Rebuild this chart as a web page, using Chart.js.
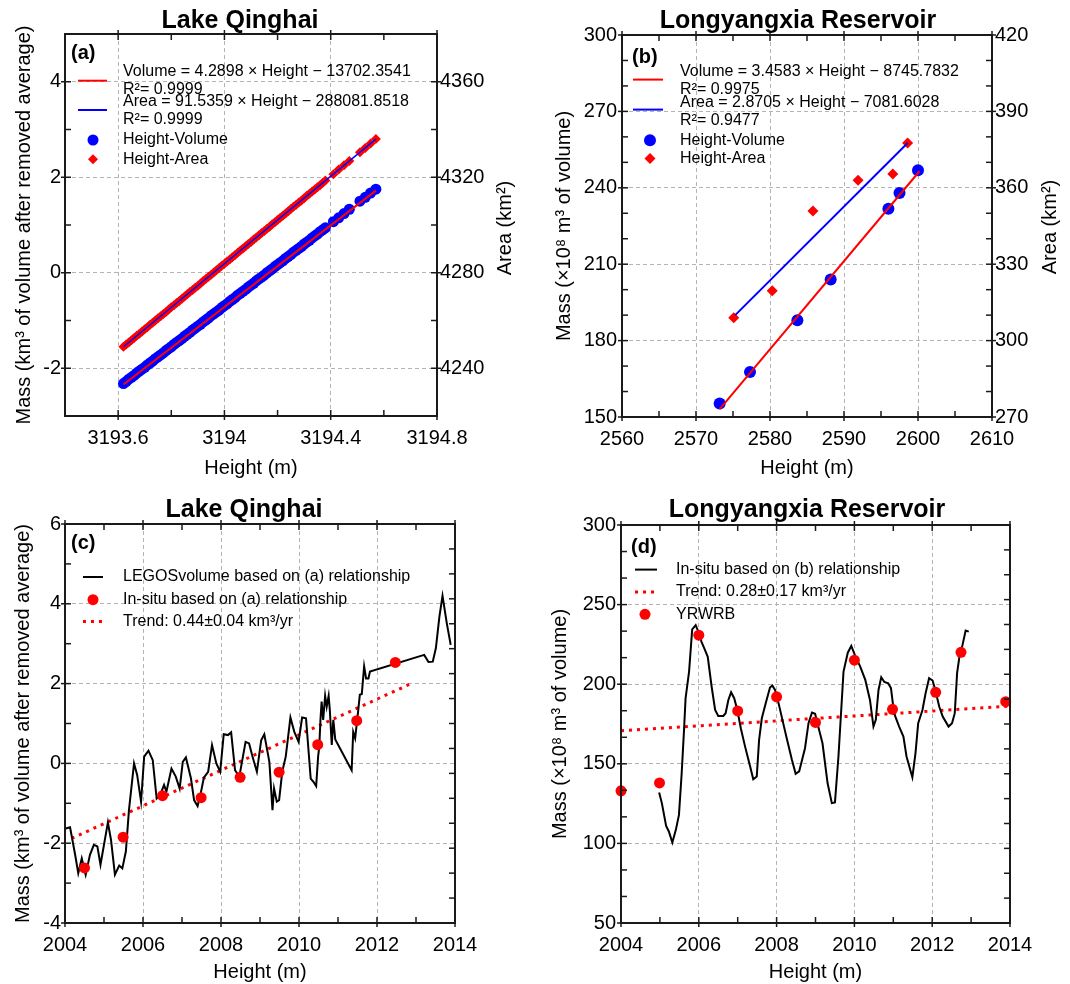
<!DOCTYPE html>
<html><head><meta charset="utf-8">
<script src="https://cdn.jsdelivr.net/npm/chart.js@4.4.0/dist/chart.umd.min.js"></script>
<style>
html,body{margin:0;padding:0;background:#fff;}
body{width:1070px;height:984px;position:relative;overflow:hidden;}
canvas{position:absolute;}
</style></head><body>
<canvas id="ca" width="535" height="490" style="left:0;top:0"></canvas>
<canvas id="cb" width="535" height="490" style="left:535px;top:0"></canvas>
<canvas id="cc" width="535" height="494" style="left:0;top:490px"></canvas>
<canvas id="cd" width="535" height="494" style="left:535px;top:490px"></canvas>
<script>
// ---------- Panel (a) Lake Qinghai: height vs volume / area ----------
const heightA = [3193.62,3193.63,3193.64,3193.65,3193.66,3193.67,3193.68,3193.69,3193.70,3193.71,3193.72,3193.73,3193.74,3193.75,3193.76,3193.77,3193.78,3193.79,3193.80,3193.81,3193.82,3193.83,3193.84,3193.85,3193.86,3193.87,3193.88,3193.89,3193.90,3193.91,3193.92,3193.93,3193.94,3193.95,3193.96,3193.97,3193.98,3193.99,3194.00,3194.01,3194.02,3194.03,3194.04,3194.05,3194.06,3194.07,3194.08,3194.09,3194.10,3194.11,3194.12,3194.13,3194.14,3194.15,3194.16,3194.17,3194.18,3194.19,3194.20,3194.21,3194.22,3194.23,3194.24,3194.25,3194.26,3194.27,3194.28,3194.29,3194.30,3194.31,3194.32,3194.33,3194.34,3194.35,3194.36,3194.37,3194.38,3194.41,3194.43,3194.45,3194.47,3194.51,3194.53,3194.55,3194.57];
const volumeA = [-2.32,-2.28,-2.23,-2.19,-2.15,-2.10,-2.06,-2.02,-1.98,-1.93,-1.89,-1.85,-1.80,-1.76,-1.72,-1.68,-1.63,-1.59,-1.55,-1.50,-1.46,-1.42,-1.38,-1.33,-1.29,-1.25,-1.20,-1.16,-1.12,-1.08,-1.03,-0.99,-0.95,-0.90,-0.86,-0.82,-0.78,-0.73,-0.69,-0.65,-0.60,-0.56,-0.52,-0.47,-0.43,-0.39,-0.35,-0.30,-0.26,-0.22,-0.17,-0.13,-0.09,-0.05,0.00,0.04,0.08,0.13,0.17,0.21,0.25,0.30,0.34,0.38,0.43,0.47,0.51,0.55,0.60,0.64,0.68,0.73,0.77,0.81,0.86,0.90,0.94,1.07,1.15,1.24,1.33,1.50,1.58,1.67,1.75];
const areaA = [4249.0,4249.9,4250.8,4251.7,4252.7,4253.6,4254.5,4255.4,4256.3,4257.2,4258.2,4259.1,4260.0,4260.9,4261.8,4262.7,4263.6,4264.6,4265.5,4266.4,4267.3,4268.2,4269.1,4270.1,4271.0,4271.9,4272.8,4273.7,4274.6,4275.5,4276.5,4277.4,4278.3,4279.2,4280.1,4281.0,4282.0,4282.9,4283.8,4284.7,4285.6,4286.5,4287.4,4288.4,4289.3,4290.2,4291.1,4292.0,4292.9,4293.9,4294.8,4295.7,4296.6,4297.5,4298.4,4299.3,4300.3,4301.2,4302.1,4303.0,4303.9,4304.8,4305.8,4306.7,4307.6,4308.5,4309.4,4310.3,4311.2,4312.2,4313.1,4314.0,4314.9,4315.8,4316.7,4317.7,4318.6,4321.3,4323.2,4325.0,4326.8,4330.5,4332.3,4334.1,4336.0];
const fitHeightA = [3193.62, 3194.57];
const fitVolumeA = [-2.34, 1.72];
const fitAreaA = [4249.0, 4336.0];
const legendA = ['Volume = 4.2898 × Height − 13702.3541', 'R²= 0.9999', 'Area = 91.5359 × Height − 288081.8518', 'R²= 0.9999', 'Height-Volume', 'Height-Area'];

// ---------- Panel (b) Longyangxia: height vs volume / area ----------
const volHeightB = [2573.2, 2577.3, 2583.7, 2588.2, 2596.0, 2597.5, 2600.0];
const volumeB = [155.3, 167.7, 188.0, 204.0, 231.8, 238.0, 246.9];
const areaHeightB = [2575.1, 2580.3, 2585.8, 2591.9, 2596.6, 2598.6];
const areaB = [309.0, 319.6, 350.9, 363.0, 365.4, 377.6];
const fitVolHeightB = [2573.2, 2600.2];
const fitVolumeB = [153.1, 246.5];
const fitAreaHeightB = [2575.3, 2598.6];
const fitAreaB = [310.0, 377.6];
const legendB = ['Volume = 3.4583 × Height − 8745.7832', 'R²= 0.9975', 'Area = 2.8705 × Height − 7081.6028', 'R²= 0.9477', 'Height-Volume', 'Height-Area'];

// ---------- Panel (c) Lake Qinghai time series ----------
const legosYearsC = [2004.02,2004.13,2004.26,2004.34,2004.43,2004.49,2004.53,2004.64,2004.74,2004.83,2004.91,2005.10,2005.18,2005.28,2005.39,2005.47,2005.56,2005.64,2005.77,2005.85,2005.95,2006.03,2006.14,2006.25,2006.35,2006.44,2006.54,2006.60,2006.73,2006.84,2006.94,2007.02,2007.10,2007.23,2007.31,2007.40,2007.48,2007.56,2007.67,2007.77,2007.88,2007.98,2008.07,2008.18,2008.26,2008.36,2008.47,2008.63,2008.72,2008.82,2008.92,2009.03,2009.11,2009.24,2009.32,2009.36,2009.43,2009.49,2009.57,2009.66,2009.78,2009.88,2009.99,2010.08,2010.18,2010.30,2010.37,2010.44,2010.49,2010.52,2010.55,2010.58,2010.62,2010.67,2010.71,2010.76,2010.79,2010.84,2010.88,2010.93,2011.35,2011.39,2011.44,2011.52,2011.56,2011.61,2011.67,2011.72,2011.78,2011.82,2013.21,2013.32,2013.43,2013.51,2013.60,2013.68,2013.79,2013.89];
const legosC = [-1.63,-1.60,-2.29,-2.75,-2.38,-2.63,-2.79,-2.29,-2.04,-2.08,-2.54,-1.48,-1.92,-2.79,-2.56,-2.63,-2.21,-1.17,0.00,-0.29,-0.96,0.17,0.32,0.08,-0.88,-0.79,-0.54,-0.71,-0.13,-0.33,-0.63,0.04,0.15,-0.38,-0.92,-1.07,-0.75,-0.36,-0.21,0.46,0.00,-0.21,0.73,0.71,0.78,-0.17,-0.33,0.54,0.50,0.13,-0.21,0.58,0.73,0.04,-1.17,-0.63,-0.96,-0.92,-0.21,0.17,1.15,0.79,0.54,1.15,1.13,-0.38,-0.46,-0.57,0.17,0.42,1.09,1.55,1.09,1.69,1.42,1.69,1.34,0.46,1.09,0.60,-0.17,0.79,0.63,1.34,1.72,1.74,2.43,2.13,2.13,2.30,2.72,2.54,2.55,2.89,3.68,4.20,3.51,2.97];
const insituYearsC = [2004.50, 2005.49, 2006.50, 2007.49, 2008.49, 2009.49, 2010.48, 2011.48, 2012.47];
const insituC = [-2.62, -1.85, -0.81, -0.86, -0.35, -0.22, 0.47, 1.07, 2.53];
const trendYearsC = [2004.17, 2012.83];
const trendC = [-1.88, 1.98];
const legendC = ['LEGOSvolume based on (a) relationship', 'In-situ based on (a) relationship', 'Trend: 0.44±0.04 km³/yr'];

// ---------- Panel (d) Longyangxia time series ----------
const insituYearsD = [2004.98,2005.05,2005.16,2005.23,2005.32,2005.41,2005.49,2005.56,2005.62,2005.66,2005.75,2005.83,2005.92,2005.99,2006.07,2006.16,2006.23,2006.33,2006.42,2006.50,2006.63,2006.69,2006.76,2006.83,2006.91,2006.99,2007.08,2007.19,2007.32,2007.40,2007.49,2007.55,2007.62,2007.72,2007.83,2007.89,2007.96,2008.05,2008.15,2008.26,2008.39,2008.49,2008.58,2008.73,2008.82,2008.91,2008.99,2009.07,2009.18,2009.31,2009.42,2009.50,2009.59,2009.72,2009.83,2009.92,2010.02,2010.15,2010.28,2010.40,2010.49,2010.55,2010.62,2010.69,2010.77,2010.87,2010.94,2011.02,2011.15,2011.26,2011.34,2011.49,2011.57,2011.64,2011.75,2011.83,2011.92,2012.01,2012.08,2012.18,2012.27,2012.42,2012.51,2012.58,2012.64,2012.70,2012.77,2012.86,2012.94];
const insituD = [131.9,125.3,111.0,107.5,100.6,108.5,117.9,144.1,171.2,191.1,207.9,234.4,237.1,232.9,226.6,221.4,217.2,198.4,183.8,180.1,180.1,181.8,190.1,194.9,191.2,183.8,172.3,160.8,148.3,140.3,142.0,165.0,178.6,188.1,197.9,199.2,196.4,188.1,177.6,166.1,152.9,143.7,145.2,159.8,175.5,182.2,181.4,173.4,162.9,137.9,125.3,125.7,154.6,207.9,219.8,224.0,217.8,211.1,202.7,190.1,173.4,177.6,196.4,204.4,201.4,200.6,197.5,181.8,173.4,167.1,154.6,141.6,156.6,175.5,183.8,194.3,203.8,202.3,196.4,186.0,179.7,173.4,175.5,181.8,206.9,217.3,223.6,233.7,233.0];
const yrwrbYearsD = [2004.0, 2004.99, 2006.0, 2007.0, 2008.0, 2009.0, 2010.0, 2010.98, 2012.09, 2012.74, 2013.89];
const yrwrbD = [133, 138, 230.8, 183.2, 192.1, 176, 215.1, 184.2, 194.9, 220, 189];
const trendYearsD = [2004.0, 2014.0];
const trendD = [170.8, 186.2];
const legendD = ['In-situ based on (b) relationship', 'Trend: 0.28±0.17 km³/yr', 'YRWRB'];

// ---------- helpers ----------
const FONT = "'Liberation Sans', Arial, Helvetica, sans-serif";
Chart.defaults.font.family = FONT;
Chart.defaults.color = '#000';
Chart.defaults.animation = false;

const pts = (xs, ys) => xs.map((x, i) => ({x: x, y: ys[i]}));
const near = (v, base, step) => { const r = (v - base) / step; return Math.abs(r - Math.round(r)) < 1e-6; };
const RED = '#ff0000', BLUE = '#0000ff';

function axis(p) {
  const horiz = p.position === 'bottom';
  return {
    type: 'linear', position: p.position, min: p.min, max: p.max,
    afterFit: s => { if (horiz) s.height = p.size; else s.width = p.size; },
    grid: { display: p.grid !== false, drawTicks: false, lineWidth: 1,
            color: c => (c.tick && p.major(c.tick.value)) ? '#b4b4b4' : 'rgba(0,0,0,0)' },
    border: { display: false, dash: [4, 3] },
    ticks: { stepSize: p.step, autoSkip: false, maxRotation: 0, minRotation: 0,
             padding: p.pad || 0, display: p.labels !== false,
             font: { size: 20 }, color: '#000',
             callback: v => p.major(v) ? p.fmt(v) : '' },
    title: p.title ? { display: true, text: p.title, font: { size: 20 }, color: '#000', padding: p.titlePad } : { display: false }
  };
}

const panelCfg = {};
const deco = {
  id: 'deco',
  afterDraw(chart) {
    const cfg = panelCfg[chart.canvas.id]; if (!cfg) return;
    const ctx = chart.ctx, ca = chart.chartArea;
    ctx.save();
    ctx.strokeStyle = '#1a1a1a'; ctx.lineWidth = 1.5;
    const seg = (x0, y0, x1, y1) => { ctx.beginPath(); ctx.moveTo(x0, y0); ctx.lineTo(x1, y1); ctx.stroke(); };
    const xs = chart.scales.x;
    xs.ticks.forEach(t => {
      const p = xs.getPixelForValue(t.value), mj = cfg.majX(t.value);
      seg(p, ca.bottom + (mj ? 4 : 0), p, ca.bottom - 6);
      seg(p, ca.top - (mj ? 4 : 0), p, ca.top + 6);
    });
    const ys = chart.scales.y;
    ys.ticks.forEach(t => {
      const p = ys.getPixelForValue(t.value), mj = cfg.majY(t.value);
      seg(ca.left - (mj ? 4 : 0), p, ca.left + 6, p);
    });
    const y2 = chart.scales.y2;
    y2.ticks.forEach(t => {
      const p = y2.getPixelForValue(t.value), mj = cfg.majY2(t.value);
      seg(ca.right + (mj ? 4 : 0), p, ca.right - 6, p);
    });
    ctx.lineWidth = 2; ctx.strokeStyle = '#1a1a1a';
    ctx.strokeRect(ca.left, ca.top, ca.right - ca.left, ca.bottom - ca.top);
    ctx.fillStyle = '#000';
    ctx.font = 'bold 25px ' + FONT; ctx.textAlign = 'center'; ctx.textBaseline = 'alphabetic';
    ctx.fillText(cfg.title, cfg.titleX, cfg.titleY);
    ctx.font = 'bold 20px ' + FONT; ctx.textAlign = 'left'; ctx.textBaseline = 'middle';
    ctx.fillText(cfg.tag, ca.left + cfg.tagX, ca.top + cfg.tagY);
    if (cfg.rTitle) {
      ctx.save(); ctx.translate(cfg.rTitleX, cfg.rTitleY); ctx.rotate(-Math.PI / 2);
      ctx.font = '20px ' + FONT; ctx.textAlign = 'center'; ctx.textBaseline = 'middle';
      ctx.fillText(cfg.rTitle, 0, 0); ctx.restore();
    }
    ctx.font = '16px ' + FONT; ctx.textAlign = 'left'; ctx.textBaseline = 'middle';
    cfg.legend.forEach(e => {
      const L = ca.left, T = ca.top;
      if (e.kind === 'line') {
        ctx.save(); ctx.strokeStyle = e.color; ctx.lineWidth = e.width; ctx.setLineDash(e.dash || []);
        seg(L + e.x0, T + e.y, L + e.x1, T + e.y); ctx.restore();
      } else if (e.kind === 'circle') {
        ctx.beginPath(); ctx.fillStyle = e.color; ctx.arc(L + e.x, T + e.y, e.r, 0, Math.PI * 2); ctx.fill();
      } else if (e.kind === 'diamond') {
        ctx.beginPath(); ctx.fillStyle = e.color;
        ctx.moveTo(L + e.x, T + e.y - e.r); ctx.lineTo(L + e.x + e.r, T + e.y);
        ctx.lineTo(L + e.x, T + e.y + e.r); ctx.lineTo(L + e.x - e.r, T + e.y); ctx.closePath(); ctx.fill();
      }
      ctx.fillStyle = '#000';
      e.text.forEach(tl => ctx.fillText(tl[0], L + e.tx, T + tl[1]));
    });
    ctx.restore();
  }
};

function baseOptions(scales, padTop) {
  return {
    responsive: false, animation: false, events: [],
    layout: { padding: { top: padTop, left: 0, right: 0, bottom: 0 } },
    plugins: { legend: { display: false }, title: { display: false }, tooltip: { enabled: false } },
    scales: scales
  };
}
const lineDs = (label, xs, ys, color, width, axisId, dash) => ({
  label: label, data: pts(xs, ys), showLine: true, borderColor: color, borderWidth: width,
  borderDash: dash || [], pointRadius: 0, fill: false, tension: 0, yAxisID: axisId, order: 0
});
const pointDs = (label, xs, ys, color, style, r, axisId, order) => ({
  label: label, data: pts(xs, ys), showLine: false, pointStyle: style, pointRadius: r,
  backgroundColor: color, borderColor: color, borderWidth: 0, yAxisID: axisId, order: order, clip: false
});

// ---------- (a) ----------
const majXA = v => v > 3193.5 && near(v, 3193.6, 0.4);
const majYA = v => near(v, 0, 2);
const majY2A = v => near(v, 4240, 40);
panelCfg.ca = {
  majX: majXA, majY: majYA, majY2: majY2A,
  title: 'Lake Qinghai', titleX: 240, titleY: 28, tag: '(a)', tagX: 6, tagY: 19,
  rTitle: 'Area (km²)', rTitleX: 505, rTitleY: 228,
  legend: [
    { kind: 'line', color: RED, width: 2, x0: 13, x1: 42, y: 46.7, tx: 58, text: [[legendA[0], 37.7], [legendA[1], 56]] },
    { kind: 'line', color: BLUE, width: 2, x0: 13, x1: 42, y: 76, tx: 58, text: [[legendA[2], 67.7], [legendA[3], 86]] },
    { kind: 'circle', color: BLUE, r: 5.5, x: 28, y: 106, tx: 58, text: [[legendA[4], 106]] },
    { kind: 'diamond', color: RED, r: 5, x: 28, y: 125.3, tx: 58, text: [[legendA[5], 125.3]] }
  ]
};
new Chart(document.getElementById('ca'), {
  type: 'scatter',
  data: { datasets: [
    lineDs('Volume fit', fitHeightA, fitVolumeA, RED, 2, 'y'),
    lineDs('Area fit', fitHeightA, fitAreaA, BLUE, 1.5, 'y2'),
    pointDs('Height-Volume', heightA, volumeA, BLUE, 'circle', 5.5, 'y', 2),
    pointDs('Height-Area', heightA, areaA, RED, 'rectRot', 5, 'y2', 1)
  ]},
  options: baseOptions({
    x: axis({ position: 'bottom', min: 3193.4, max: 3194.8, step: 0.2, major: majXA, fmt: v => String(+v.toFixed(1)), size: 74, pad: 10, title: 'Height (m)', titlePad: { top: 0, bottom: 10 } }),
    y: axis({ position: 'left', min: -3, max: 5, step: 1, major: majYA, fmt: v => String(Math.round(v)), size: 65, pad: 4, title: 'Mass (km³ of volume after removed average)', titlePad: { top: 12, bottom: 0 } }),
    y2: axis({ position: 'right', min: 4220, max: 4380, step: 20, major: majY2A, fmt: v => String(Math.round(v)), size: 98, pad: 3, grid: false })
  }, 34),
  plugins: [deco]
});

// ---------- (b) ----------
const majXB = v => near(v, 2560, 10);
const majYB = v => near(v, 150, 30);
const majY2B = v => near(v, 270, 30);
panelCfg.cb = {
  majX: majXB, majY: majYB, majY2: majY2B,
  title: 'Longyangxia Reservoir', titleX: 263, titleY: 28, tag: '(b)', tagX: 10, tagY: 22,
  rTitle: 'Area (km²)', rTitleX: 515, rTitleY: 227,
  legend: [
    { kind: 'line', color: RED, width: 2, x0: 11, x1: 41, y: 44.6, tx: 58, text: [[legendB[0], 37], [legendB[1], 54.6]] },
    { kind: 'line', color: BLUE, width: 2, x0: 11, x1: 41, y: 74.6, tx: 58, text: [[legendB[2], 68], [legendB[3], 85.3]] },
    { kind: 'circle', color: BLUE, r: 6, x: 28, y: 105.3, tx: 58, text: [[legendB[4], 105.3]] },
    { kind: 'diamond', color: RED, r: 5.5, x: 28, y: 123.6, tx: 58, text: [[legendB[5], 123.6]] }
  ]
};
new Chart(document.getElementById('cb'), {
  type: 'scatter',
  data: { datasets: [
    lineDs('Volume fit', fitVolHeightB, fitVolumeB, RED, 2, 'y'),
    lineDs('Area fit', fitAreaHeightB, fitAreaB, BLUE, 2, 'y2'),
    pointDs('Height-Volume', volHeightB, volumeB, BLUE, 'circle', 6, 'y', 2),
    pointDs('Height-Area', areaHeightB, areaB, RED, 'rectRot', 5.5, 'y2', 1)
  ]},
  options: baseOptions({
    x: axis({ position: 'bottom', min: 2560, max: 2610, step: 5, major: majXB, fmt: v => String(Math.round(v)), size: 73, pad: 10, title: 'Height (m)', titlePad: { top: 0, bottom: 10 } }),
    y: axis({ position: 'left', min: 150, max: 300, step: 10, major: majYB, fmt: v => String(Math.round(v)), size: 87, pad: 5, title: 'Mass (×10⁸ m³ of volume)', titlePad: { top: 17, bottom: 0 } }),
    y2: axis({ position: 'right', min: 270, max: 420, step: 10, major: majY2B, fmt: v => String(Math.round(v)), size: 78, pad: 3, grid: false })
  }, 35),
  plugins: [deco]
});

// ---------- (c) ----------
const majXC = v => near(v, 2004, 2);
const majYC = v => near(v, 0, 2);
const noMaj = v => false;
panelCfg.cc = {
  majX: majXC, majY: majYC, majY2: noMaj,
  title: 'Lake Qinghai', titleX: 244, titleY: 27, tag: '(c)', tagX: 6, tagY: 19,
  legend: [
    { kind: 'line', color: '#000', width: 2, x0: 18, x1: 38, y: 53, tx: 58, text: [[legendC[0], 53]] },
    { kind: 'circle', color: RED, r: 5.5, x: 28, y: 75.7, tx: 58, text: [[legendC[1], 75.7]] },
    { kind: 'line', color: RED, width: 3, dash: [3, 5], x0: 18, x1: 40, y: 97.4, tx: 58, text: [[legendC[2], 97.4]] }
  ]
};
new Chart(document.getElementById('cc'), {
  type: 'scatter',
  data: { datasets: [
    lineDs('LEGOSvolume based on (a) relationship', legosYearsC, legosC, '#000', 2, 'y'),
    lineDs('Trend', trendYearsC, trendC, RED, 3, 'y', [3, 5]),
    pointDs('In-situ based on (a) relationship', insituYearsC, insituC, RED, 'circle', 5.5, 'y', -1)
  ]},
  options: baseOptions({
    x: axis({ position: 'bottom', min: 2004, max: 2014, step: 1, major: majXC, fmt: v => String(Math.round(v)), size: 61, pad: 10, title: 'Height (m)', titlePad: { top: 0, bottom: 0 } }),
    y: axis({ position: 'left', min: -4, max: 6, step: 1, major: majYC, fmt: v => String(Math.round(v)), size: 65, pad: 4, title: 'Mass (km³ of volume after removed average)', titlePad: { top: 11, bottom: 0 } }),
    y2: axis({ position: 'right', min: 0, max: 16, step: 1, major: noMaj, fmt: v => '', size: 80, labels: false, grid: false })
  }, 34),
  plugins: [deco]
});

// ---------- (d) ----------
const majXD = v => near(v, 2004, 2);
const majYD = v => near(v, 0, 50);
panelCfg.cd = {
  majX: majXD, majY: majYD, majY2: noMaj,
  title: 'Longyangxia Reservoir', titleX: 272, titleY: 27, tag: '(d)', tagX: 10, tagY: 22,
  legend: [
    { kind: 'line', color: '#000', width: 2, x0: 14, x1: 36, y: 44.6, tx: 55, text: [[legendD[0], 44.6]] },
    { kind: 'line', color: RED, width: 3, dash: [3, 5], x0: 14, x1: 38, y: 67, tx: 55, text: [[legendD[1], 67]] },
    { kind: 'circle', color: RED, r: 5.5, x: 24, y: 89.3, tx: 55, text: [[legendD[2], 89.3]] }
  ]
};
new Chart(document.getElementById('cd'), {
  type: 'scatter',
  data: { datasets: [
    lineDs('In-situ based on (b) relationship', insituYearsD, insituD, '#000', 2, 'y'),
    lineDs('Trend', trendYearsD, trendD, RED, 3, 'y', [3, 5]),
    pointDs('YRWRB', yrwrbYearsD, yrwrbD, RED, 'circle', 5.5, 'y', -1)
  ]},
  options: baseOptions({
    x: axis({ position: 'bottom', min: 2004, max: 2014, step: 1, major: majXD, fmt: v => String(Math.round(v)), size: 61, pad: 10, title: 'Height (m)', titlePad: { top: 0, bottom: 0 } }),
    y: axis({ position: 'left', min: 50, max: 300, step: 50 / 3, major: majYD, fmt: v => String(Math.round(v)), size: 86, pad: 5, title: 'Mass (×10⁸ m³ of volume)', titlePad: { top: 13, bottom: 0 } }),
    y2: axis({ position: 'right', min: 0, max: 16, step: 1, major: noMaj, fmt: v => '', size: 60, labels: false, grid: false })
  }, 35),
  plugins: [deco]
});
</script>
</body></html>
